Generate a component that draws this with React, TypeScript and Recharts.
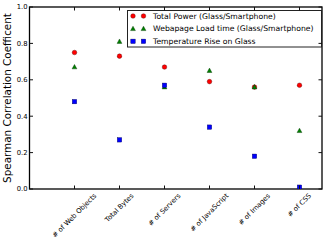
import React from 'react';
import { ScatterChart, Scatter, XAxis, YAxis, Customized } from 'recharts';

const categories = ['# of Web Objects', 'Total Bytes', '# of Servers', '# of JavaScript', '# of Images', '# of CSS'];
const totalPower = [0.75, 0.73, 0.67, 0.59, 0.56, 0.57];
const loadTime = [0.67, 0.81, 0.56, 0.65, 0.56, 0.32];
const tempRise = [0.48, 0.27, 0.57, 0.34, 0.18, 0.01];
const yTicks = [0, 0.2, 0.4, 0.6, 0.8, 1.0];
const seriesNames = ['Total Power (Glass/Smartphone)', 'Webapage Load time (Glass/Smartphone)', 'Temperature Rise on Glass'];

const toPoints = (vals: number[]) => vals.map((v, i) => ({ x: i, y: v }));
const powerData = toPoints(totalPower);
const loadData = toPoints(loadTime);
const tempData = toPoints(tempRise);

const FONT = '"DejaVu Sans", "Liberation Sans", sans-serif';
const TICK_FS = 6.8;
const TL = 3.5;

const RED = '#ff0000';
const GREEN = '#008000';
const BLUE = '#0000ff';

const M = { top: 6, right: 3, bottom: 0, left: 0 };
const W = 326;
const H = 243;
const YW = 29.5;
const XH = 54;

let ctx: CanvasRenderingContext2D | null = null;
function measure(text: string, fs: number) {
  if (typeof document === 'undefined') return text.length * fs * 0.55;
  if (!ctx) {
    const c = document.createElement('canvas');
    ctx = c.getContext('2d');
  }
  if (!ctx) return text.length * fs * 0.55;
  ctx.font = `${fs}px "DejaVu Sans"`;
  return ctx.measureText(text).width;
}

const Circle = (cx: number, cy: number, key?: any) => (
  <circle key={key} cx={cx} cy={cy} r={2.3} fill={RED} stroke="#550000" strokeWidth={0.4} />
);
const Tri = (cx: number, cy: number, key?: any) => (
  <polygon key={key} points={`${cx},${cy - 2.6} ${cx - 2.4},${cy + 1.8} ${cx + 2.4},${cy + 1.8}`} fill={GREEN} stroke="#003300" strokeWidth={0.4} />
);
const Sq = (cx: number, cy: number, key?: any) => (
  <rect key={key} x={cx - 2.2} y={cy - 2.2} width={4.4} height={4.4} fill={BLUE} stroke="#000055" strokeWidth={0.4} />
);

const shapeFn = (fn: (cx: number, cy: number) => React.ReactElement) => (props: any) => fn(props.cx, props.cy);

const TICK_STROKE = '#111';

const BottomTick = (props: any) => {
  const { x, y, payload } = props;
  const label = categories[payload.value] ?? '';
  const w = measure(label, TICK_FS);
  const h = TICK_FS * 1.15;
  const half = (w + h) / (2 * Math.SQRT2);
  const cy = y + 3 + half;
  return (
    <g>
      <path d={`M${x},${y}L${x},${y - TL}`} stroke={TICK_STROKE} strokeWidth={1} fill="none" />
      <text x={x} y={cy} textAnchor="middle" dominantBaseline="central" fontSize={TICK_FS} fontFamily={FONT} fill="#000" transform={`rotate(-45, ${x}, ${cy})`}>
        {label}
      </text>
    </g>
  );
};

const TopTick = (props: any) => {
  const { x, y } = props;
  return <path d={`M${x},${y}L${x},${y + TL}`} stroke={TICK_STROKE} strokeWidth={1} fill="none" />;
};

const LeftTick = (props: any) => {
  const { x, y, payload } = props;
  return (
    <g>
      <path d={`M${x},${y}L${x + TL},${y}`} stroke={TICK_STROKE} strokeWidth={1} fill="none" />
      <text x={x - 2} y={y} dy="0.35em" textAnchor="end" fontSize={TICK_FS} fontFamily={FONT} fill="#000">
        {Number(payload.value).toFixed(1)}
      </text>
    </g>
  );
};

const RightTick = (props: any) => {
  const { x, y } = props;
  return <path d={`M${x},${y}L${x - TL},${y}`} stroke={TICK_STROKE} strokeWidth={1} fill="none" />;
};

const Frame = () => {
  const area = { x: M.left + YW, y: M.top + 1, width: W - M.left - M.right - YW - 1, height: H - M.top - 1 - XH };
  return <rect x={area.x} y={area.y} width={area.width} height={area.height} fill="none" stroke="#000" strokeWidth={1.3} />;
};

const LegendBox = () => {
  const left = 127.5;
  const top = 10.5;
  const w = 194;
  const h = 36.5;
  const rows = [16, 28.8, 41.3];
  const shapes = [Circle, Tri, Sq];
  return (
    <g>
      <rect x={left} y={top} width={w} height={h} fill="#fff" stroke="#222" strokeWidth={1} />
      {rows.map((ry, i) => (
        <g key={i}>
          {shapes[i](133, ry, 'a')}
          {shapes[i](143.5, ry, 'b')}
          <text x={153} y={ry} dy="0.35em" fontSize={7.7} fontFamily={FONT} fill="#000">
            {seriesNames[i]}
          </text>
        </g>
      ))}
    </g>
  );
};

const YLabel = () => (
  <text x={11} y={98} transform="rotate(-90, 11, 98)" textAnchor="middle" fontSize={10.4} fontFamily={FONT} fill="#000">
    Spearman Correlation Coefficent
  </text>
);

export default function App() {
  return (
    <div style={{ position: 'absolute', left: 0, top: 0, width: W, height: H, background: '#fff' }}>
      <ScatterChart width={W} height={H} margin={M}>
        <XAxis
          xAxisId="b"
          dataKey="x"
          type="number"
          domain={[-1, 5.5]}
          ticks={[0, 1, 2, 3, 4, 5]}
          allowDataOverflow
          height={XH}
          axisLine={false}
          tickLine={false}
          tickSize={0}
          tickMargin={0}
          tick={<BottomTick />}
          interval={0}
        />
        <XAxis
          xAxisId="t"
          orientation="top"
          dataKey="x"
          type="number"
          domain={[-1, 5.5]}
          ticks={[0, 1, 2, 3, 4, 5]}
          allowDataOverflow
          height={1}
          axisLine={false}
          tickLine={false}
          tickSize={0}
          tickMargin={0}
          tick={<TopTick />}
          interval={0}
        />
        <YAxis
          yAxisId="l"
          dataKey="y"
          type="number"
          domain={[0, 1]}
          ticks={yTicks}
          allowDataOverflow
          width={YW}
          axisLine={false}
          tickLine={false}
          tickSize={0}
          tickMargin={0}
          tick={<LeftTick />}
          interval={0}
        />
        <YAxis
          yAxisId="r"
          orientation="right"
          dataKey="y"
          type="number"
          domain={[0, 1]}
          ticks={yTicks}
          allowDataOverflow
          width={1}
          axisLine={false}
          tickLine={false}
          tickSize={0}
          tickMargin={0}
          tick={<RightTick />}
          interval={0}
        />
        <Customized component={<Frame />} />
        <Scatter xAxisId="b" yAxisId="l" data={powerData} shape={shapeFn(Circle)} isAnimationActive={false} />
        <Scatter xAxisId="b" yAxisId="l" data={loadData} shape={shapeFn(Tri)} isAnimationActive={false} />
        <Scatter xAxisId="b" yAxisId="l" data={tempData} shape={shapeFn(Sq)} isAnimationActive={false} />
        <Customized component={<LegendBox />} />
        <Customized component={<YLabel />} />
      </ScatterChart>
    </div>
  );
}
